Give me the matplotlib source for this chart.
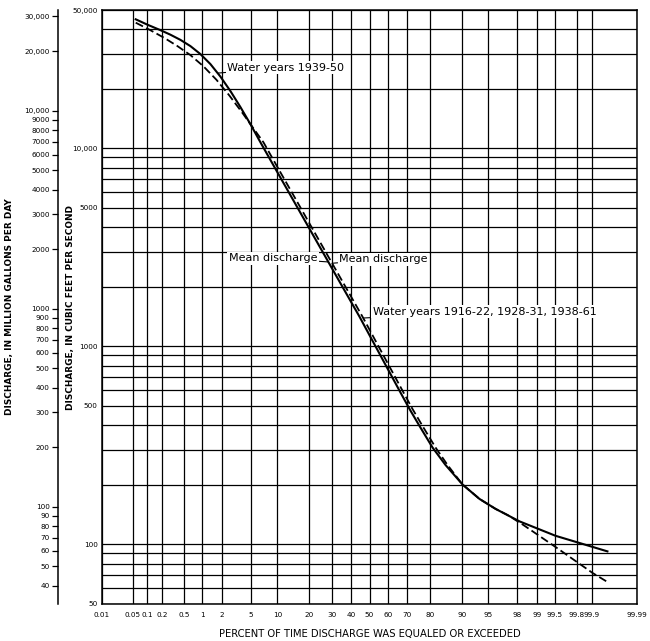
import numpy as np
import matplotlib
matplotlib.use("Agg")
import matplotlib.pyplot as plt
from matplotlib.ticker import FixedLocator, FixedFormatter, NullFormatter, NullLocator
from statistics import NormalDist

# ---------------- data ----------------
pct_tick_values = [0.01, 0.05, 0.1, 0.2, 0.5, 1, 2, 5, 10, 20, 30, 40, 50, 60,
                   70, 80, 90, 95, 98, 99, 99.5, 99.8, 99.9, 99.99]
pct_tick_labels = ["0.01", "0.05", "0.1", "0.2", "0.5", "1", "2", "5", "10",
                   "20", "30", "40", "50", "60", "70", "80", "90", "95", "98",
                   "99", "99.5", "99.8", "99.9", "99.99"]

cfs_major = [50, 100, 500, 1000, 5000, 10000, 50000]
cfs_major_labels = ["50", "100", "500", "1000", "5000", "10,000", "50,000"]
cfs_minor = [60, 70, 80, 90, 200, 300, 400, 600, 700, 800, 900, 2000, 3000,
             4000, 6000, 7000, 8000, 9000, 20000, 30000, 40000]

mgd_ticks = [30000, 20000, 10000, 9000, 8000, 7000, 6000, 5000, 4000, 3000,
             2000, 1000, 900, 800, 700, 600, 500, 400, 300, 200, 100, 90, 80,
             70, 60, 50, 40]
mgd_labels = ["30,000", "20,000", "10,000", "9000", "8000", "7000", "6000",
              "5000", "4000", "3000", "2000", "1000", "900", "800", "700",
              "600", "500", "400", "300", "200", "100", "90", "80", "70", "60",
              "50", "40"]
CFS_TO_MGD = 0.646317

# Water years 1939-50 (solid)
pct_1939 = [0.0577, 0.101, 0.183, 0.282, 0.429, 0.639, 0.9375, 1.35, 1.91,
            2.66, 3.64, 4.90, 6.47, 9.32, 13.29, 18.67, 27.03, 35.36, 44.47,
            55.53, 60.96, 66.17, 71.10, 75.66, 80.95, 85.47, 90.21, 93.70,
            96.02, 98.15, 99.516, 99.904, 99.953]
q_1939 = [44870, 42150, 39540, 37520, 35320, 32860, 29940, 26650, 23050,
          19470, 16160, 13240, 10735, 8046, 5919, 4264, 2831, 1999, 1413,
          918.6, 740.7, 597.3, 482.9, 396.3, 308.6, 251.8, 200.6, 169.6,
          151.1, 130.7, 110.5, 97.1, 92.2]

# Water years 1916-22, 1928-31, 1938-61 (dashed)
pct_long = [0.0577, 0.1166, 0.2178, 0.379, 0.639, 1.048, 1.667, 2.576, 3.867,
            4.90, 7.02, 10.03, 14.21, 19.81, 28.43, 36.93, 46.12, 57.17, 62.55,
            67.69, 72.51, 76.95, 82.07, 86.10, 90.21, 93.70, 96.02, 97.25,
            98.333, 99.516, 99.904, 99.953]
q_long = [43140, 39490, 36110, 32860, 29590, 25980, 22210, 18470, 15100,
          13240, 10735, 8046, 5919, 4264, 2831, 1999, 1413, 918.6, 740.7,
          597.3, 482.9, 396.3, 308.6, 251.8, 200.6, 169.6, 151.1, 140.8,
          126.1, 97.0, 71.7, 64.6]

mean_q_1939 = 2670
mean_q_long = 2630

# ---------------- probability scale ----------------
ND = NormalDist()
_ppf = np.vectorize(lambda v: ND.inv_cdf(v), otypes=[float])
_cdf = np.vectorize(lambda v: ND.cdf(v), otypes=[float])


def fwd(p):
    p = np.clip(np.asarray(p, dtype=float), 1e-7, 100 - 1e-7)
    return _ppf(p / 100.0)


def inv(z):
    return _cdf(np.asarray(z, dtype=float)) * 100.0


def pct_at(q_target, pcts, qs):
    z = fwd(pcts)
    lq = np.log10(qs)
    return float(inv(np.interp(np.log10(q_target), lq[::-1], z[::-1])))


# ---------------- figure ----------------
W, H = 650, 641
fig = plt.figure(figsize=(W / 100, H / 100), dpi=100)
plt.rcParams['font.family'] = ['DejaVu Sans']

left, right, top, bottom = 102, 637, 10, 604
ax = fig.add_axes([left / W, 1 - bottom / H, (right - left) / W, (bottom - top) / H])
ax.set_xscale('function', functions=(fwd, inv))
ax.set_yscale('log')
ax.set_xlim(0.01, 99.99)
ax.set_ylim(50, 50000)

ax.xaxis.set_major_locator(FixedLocator(pct_tick_values))
ax.xaxis.set_major_formatter(FixedFormatter(pct_tick_labels))
ax.xaxis.set_minor_locator(NullLocator())
ax.yaxis.set_major_locator(FixedLocator(cfs_major))
ax.yaxis.set_major_formatter(FixedFormatter(cfs_major_labels))
ax.yaxis.set_minor_locator(FixedLocator(cfs_minor))
ax.yaxis.set_minor_formatter(NullFormatter())

ax.tick_params(axis='both', which='both', length=0, labelsize=5.2)
ax.tick_params(axis='x', pad=6)
ax.tick_params(axis='y', pad=3)
ax.grid(True, which='major', axis='x', color='black', lw=0.9)
ax.grid(True, which='both', axis='y', color='black', lw=0.9)
for s in ax.spines.values():
    s.set_linewidth(1.1)

ax.plot(pct_1939, q_1939, color='black', lw=1.5, solid_joinstyle='round', zorder=3)
ax.plot(pct_long, q_long, color='black', lw=1.3, ls=(0, (4.5, 2)), zorder=3)

ax.set_xlabel("PERCENT OF TIME DISCHARGE WAS EQUALED OR EXCEEDED",
              fontsize=7.2, labelpad=8)

# annotations
txt_kw = dict(fontsize=8, va='center', textcoords='offset points', zorder=5,
              bbox=dict(boxstyle='square,pad=0.15', fc='white', ec='none'),
              arrowprops=dict(arrowstyle='-', color='black', lw=0.8,
                              shrinkA=0, shrinkB=0))

q_lab = 24000
p = pct_at(q_lab, pct_1939, q_1939)
ax.annotate("Water years 1939-50", xy=(p, q_lab), xytext=(7, 4), ha='left', **txt_kw)

p = pct_at(mean_q_1939, pct_1939, q_1939)
ax.annotate("Mean discharge", xy=(p, mean_q_1939), xytext=(-7.8, 2.7), ha='right', **txt_kw)

p = pct_at(mean_q_long, pct_long, q_long)
ax.annotate("Mean discharge", xy=(p, mean_q_long), xytext=(5.2, 2.9), ha='left', **txt_kw)

q_lab = 1391
p = pct_at(q_lab, pct_long, q_long)
ax.annotate("Water years 1916-22, 1928-31, 1938-61", xy=(p, q_lab), xytext=(6.7, 4.5),
            ha='left', **txt_kw)

# cfs axis label
fig.text(70 / W, 1 - 307 / H, "DISCHARGE, IN CUBIC FEET PER SECOND", rotation=90,
         fontsize=6.4, fontweight='bold', ha='center', va='center')

# million gallons per day axis
ax2 = fig.add_axes([58 / W, 1 - bottom / H, 0.0001, (bottom - top) / H])
ax2.set_yscale('log')
ax2.set_ylim(50 * CFS_TO_MGD, 50000 * CFS_TO_MGD)
ax2.set_facecolor('none')
for k in ('top', 'right', 'bottom'):
    ax2.spines[k].set_visible(False)
ax2.spines['left'].set_linewidth(1.1)
ax2.xaxis.set_visible(False)
ax2.yaxis.set_major_locator(FixedLocator(mgd_ticks))
ax2.yaxis.set_major_formatter(FixedFormatter(mgd_labels))
ax2.yaxis.set_minor_locator(NullLocator())
ax2.tick_params(axis='y', which='major', direction='out', length=4, width=0.9,
                labelsize=5.2, pad=2)

fig.text(10 / W, 1 - 307 / H, "DISCHARGE, IN MILLION GALLONS PER DAY", rotation=90,
         fontsize=6.4, fontweight='bold', ha='center', va='center')

fig.savefig("out.png", dpi=100)
